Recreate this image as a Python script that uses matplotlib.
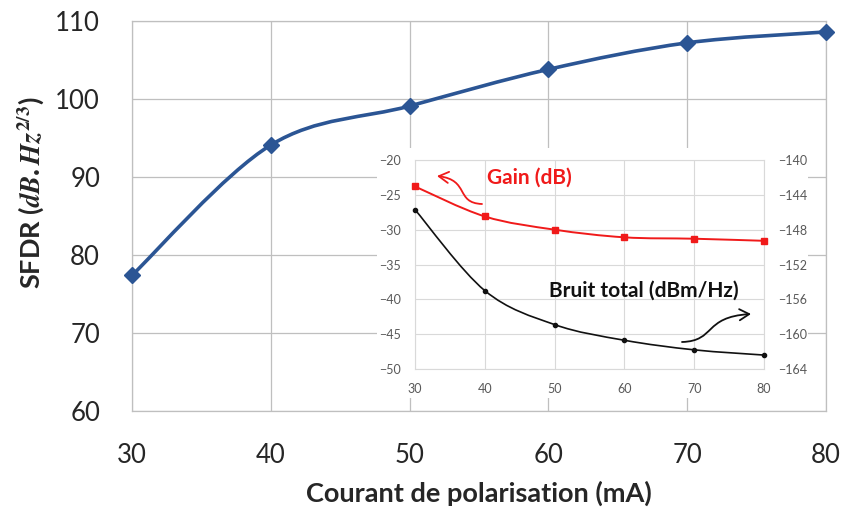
import matplotlib
matplotlib.use("Agg")
import matplotlib.pyplot as plt
from matplotlib.path import Path
from matplotlib.patches import PathPatch, FancyArrowPatch, Rectangle

plt.rcParams['font.family'] = ['Lato', 'DejaVu Sans']
plt.rcParams['mathtext.fontset'] = 'custom'
plt.rcParams['mathtext.it'] = 'STIXGeneral:italic:bold'
plt.rcParams['mathtext.rm'] = 'STIXGeneral:bold'

# Bias current (mA)
courant = [30, 40, 50, 60, 70, 80]
# SFDR (dB.Hz^2/3)
sfdr = [77.4, 94.1, 99.1, 103.8, 107.2, 108.6]
# Inset: gain (dB, left axis) and total noise (dBm/Hz, right axis)
gain = [-23.8, -28.1, -30.0, -31.1, -31.3, -31.6]
bruit = [-145.7, -155.0, -158.9, -160.7, -161.8, -162.4]

main_xticks = [30, 40, 50, 60, 70, 80]
main_yticks = [60, 70, 80, 90, 100, 110]
inset_left_ticks = [-50, -45, -40, -35, -30, -25, -20]
inset_right_ticks = [-164, -160, -156, -152, -148, -144, -140]

W, H = 846, 517
fig = plt.figure(figsize=(W / 100, H / 100), dpi=100)


def fx(px):
    return px / W


def fy(py):
    return 1 - py / H


def smooth_path(xs, ys):
    """Catmull-Rom style cubic Bezier path through the points."""
    pts = list(zip(xs, ys))
    n = len(pts)
    verts = [pts[0]]
    codes = [Path.MOVETO]
    for i in range(n - 1):
        p0 = pts[i - 1] if i > 0 else pts[i]
        p1 = pts[i]
        p2 = pts[i + 1]
        p3 = pts[i + 2] if i + 2 < n else pts[i + 1]
        c1 = (p1[0] + (p2[0] - p0[0]) / 6, p1[1] + (p2[1] - p0[1]) / 6)
        c2 = (p2[0] - (p3[0] - p1[0]) / 6, p2[1] - (p3[1] - p1[1]) / 6)
        verts += [c1, c2, p2]
        codes += [Path.CURVE4] * 3
    return Path(verts, codes)


grid_c = '#BFBFBF'
blue = '#2B5594'

# ---- main chart ----
ax = fig.add_axes([fx(132), fy(411), fx(826) - fx(132), fy(21) - fy(411)])
ax.set_xlim(30, 80)
ax.set_ylim(60, 110)
ax.set_xticks(main_xticks)
ax.set_yticks(main_yticks)
ax.grid(True, color=grid_c, lw=0.9)
ax.set_axisbelow(True)
for s in ax.spines.values():
    s.set_color(grid_c)
    s.set_linewidth(0.9)
ax.tick_params(length=0, labelsize=18.5, colors='#262626', pad=23)
ax.add_patch(PathPatch(smooth_path(courant, sfdr), fill=False, ec=blue, lw=2.6,
                       capstyle='round', joinstyle='round', zorder=3))
ax.plot(courant, sfdr, ls='none', marker='D', ms=8, color=blue, zorder=4,
        clip_on=False)

fig.text(fx(479), fy(493), 'Courant de polarisation (mA)', ha='center',
         va='center', fontsize=19.5, fontweight='bold', color='#262626')
fig.text(fx(31), fy(193), r'SFDR ($dB.Hz^{2/3}$)', ha='center', va='center',
         rotation=90, fontsize=19.5, fontweight='bold', color='#262626')

# ---- inset background ----
fig.patches.append(Rectangle((fx(377), fy(398)), fx(808) - fx(377),
                             fy(148) - fy(398), transform=fig.transFigure,
                             fc='white', ec='none', zorder=0.5))

# ---- inset chart ----
inset_c = '#D9D9D9'
ai = fig.add_axes([fx(415), fy(369), fx(764) - fx(415), fy(160) - fy(369)])
ai.set_zorder(1)
ai.patch.set_visible(False)
ai.set_xlim(30, 80)
ai.set_ylim(-50, -20)
ai.set_xticks(main_xticks)
ai.set_yticks(inset_left_ticks)
ai.grid(True, color=inset_c, lw=0.8)
ai.set_axisbelow(True)
for s in ai.spines.values():
    s.set_color(inset_c)
    s.set_linewidth(0.8)
ai.tick_params(length=0, labelsize=9, colors='#595959', pad=10)

ar = ai.twinx()
ar.set_ylim(-164, -140)
ar.set_yticks(inset_right_ticks)
for s in ar.spines.values():
    s.set_visible(False)
ar.tick_params(length=0, labelsize=9, colors='#595959', pad=10)

red = '#F01A1A'
ai.add_patch(PathPatch(smooth_path(courant, gain), fill=False, ec=red, lw=1.4,
                       zorder=3))
ai.plot(courant, gain, ls='none', marker='s', ms=4.5, color=red, zorder=4,
        clip_on=False)
ar.add_patch(PathPatch(smooth_path(courant, bruit), fill=False, ec='#111111',
                       lw=1.2, zorder=3))
ar.plot(courant, bruit, ls='none', marker='o', ms=3, color='#111111', zorder=4,
        clip_on=False)

fig.text(fx(529), fy(178), 'Gain (dB)', ha='center', va='center',
         fontsize=15, fontweight='bold', color=red, zorder=5)
fig.text(fx(644), fy(291), 'Bruit total (dBm/Hz)', ha='center', va='center',
         fontsize=15, fontweight='bold', color='#111111', zorder=5)

# hand-drawn style arrows pointing to each axis
red_arrow = Path([(fx(482), fy(204)), (fx(455), fy(203)), (fx(470), fy(180)),
                  (fx(437), fy(176))],
                 [Path.MOVETO, Path.CURVE4, Path.CURVE4, Path.CURVE4])
fig.patches.append(FancyArrowPatch(path=red_arrow,
                                   arrowstyle='->,head_length=7,head_width=4',
                                   color=red, lw=1.3, transform=fig.transFigure,
                                   zorder=5))
black_arrow = Path([(fx(682), fy(342)), (fx(716), fy(341)), (fx(703), fy(317)),
                    (fx(751), fy(314))],
                   [Path.MOVETO, Path.CURVE4, Path.CURVE4, Path.CURVE4])
fig.patches.append(FancyArrowPatch(path=black_arrow,
                                   arrowstyle='->,head_length=7,head_width=4',
                                   color='#111111', lw=1.3,
                                   transform=fig.transFigure, zorder=5))

fig.savefig('out.png', dpi=100, facecolor='white')
